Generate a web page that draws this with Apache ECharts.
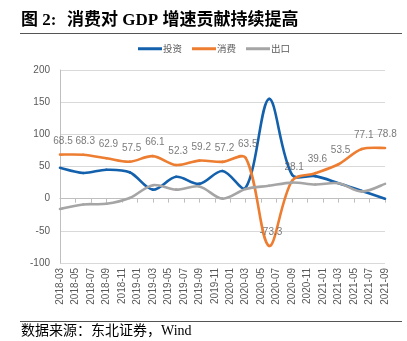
<!DOCTYPE html>
<html><head><meta charset="utf-8">
<script src="https://cdn.jsdelivr.net/npm/echarts@6/dist/echarts.min.js"></script>
<style>html,body{margin:0;padding:0;background:#fff}#c{width:407px;height:341px}</style>
</head><body><div id="c"></div>
<script>
const months = [];
for (let y = 2018; y <= 2021; y++) for (let m = 1; m <= 12; m++) {
  if ((y === 2018 && m < 3) || (y === 2021 && m > 9)) continue;
  months.push(y + '-' + String(m).padStart(2, '0'));
}
const quarters = ['2018-03','2018-06','2018-09','2018-12','2019-03','2019-06','2019-09','2019-12','2020-03','2020-06','2020-09','2020-12','2021-03','2021-06','2021-09'];
const investment = [48, 40, 45, 41, 14, 34, 23, 43, 17, 155, 37, 35, 24, 12, 0];
const consumption = [68.5, 68.3, 62.9, 57.5, 66.1, 52.3, 59.2, 57.2, 63.5, -73.3, 28.1, 39.6, 53.5, 77.1, 78.8];
const exportsNet = [-16, -9, -8, 1, 21, 14, 19, 0, 15, 20, 25, 22, 24, 11, 23];
const yTicks = [-100, -50, 0, 50, 100, 150, 200];
const seriesNames = ['投资', '消费', '出口'];
const colors = ['#1360ac', '#ed7d31', '#a5a5a5'];

const pair = arr => quarters.map((q, i) => [q, arr[i]]);

// Excel-style smoothed line (length-weighted Catmull-Rom Bezier), placed with the chart's own coordinate system
function smoothSeries(name, values, color) {
  return {
    name: name, type: 'custom', data: pair(values), encode: { x: 0, y: 1 },
    itemStyle: { color: color },
    renderItem: function (params, api) {
      const i = params.dataIndex, n = values.length;
      if (i >= n - 1) return null;
      const P = k => { k = Math.max(0, Math.min(n - 1, k)); return api.coord([quarters[k], values[k]]); };
      const dist = (a, b) => Math.hypot(a[0] - b[0], a[1] - b[1]) || 1e-6;
      const s = 1 / 3;
      const p0 = P(i - 1), p1 = P(i), p2 = P(i + 1), p3 = P(i + 2);
      const r1 = i === 0 ? 0.5 : dist(p1, p2) / (dist(p0, p1) + dist(p1, p2));
      const c1 = [p1[0] + (p2[0] - p0[0]) * s * r1, p1[1] + (p2[1] - p0[1]) * s * r1];
      const r2 = i + 1 === n - 1 ? 0.5 : dist(p1, p2) / (dist(p1, p2) + dist(p2, p3));
      const c2 = [p2[0] - (p3[0] - p1[0]) * s * r2, p2[1] - (p3[1] - p1[1]) * s * r2];
      return {
        type: 'bezierCurve',
        shape: { x1: p1[0], y1: p1[1], x2: p2[0], y2: p2[1], cpx1: c1[0], cpy1: c1[1], cpx2: c2[0], cpy2: c2[1] },
        style: { stroke: color, lineWidth: 2.6, fill: null, lineCap: 'round' }
      };
    }
  };
}

const chart = echarts.init(document.getElementById('c'));
const axisFont = { color: '#595959', fontSize: 10, fontFamily: 'Liberation Sans, Arial, sans-serif' };
chart.setOption({
  animation: false,
  color: colors,
  graphic: [
    { type: 'text', left: 21, top: 12, style: { text: '图 2:', font: 'bold 17px "Liberation Serif", "Noto Sans CJK SC", serif', fill: '#000' } },
    { type: 'text', left: 67, top: 12, style: { text: '消费对 GDP 增速贡献持续提高', font: 'bold 17px "Liberation Serif", "Noto Sans CJK SC", serif', fill: '#000' } },
    { type: 'line', shape: { x1: 20, y1: 33.5, x2: 402, y2: 33.5 }, style: { stroke: '#555', lineWidth: 1 } },
    { type: 'line', shape: { x1: 20, y1: 321.5, x2: 402, y2: 321.5 }, style: { stroke: '#555', lineWidth: 1 } },
    { type: 'text', left: 21, top: 324, style: { text: '数据来源：东北证券，Wind', font: '14px "Liberation Serif", "Noto Sans CJK SC", serif', fill: '#000' } }
  ],
  legend: {
    top: 44, left: 138, padding: 0, itemWidth: 24, itemHeight: 3, itemGap: 10,
    icon: 'rect',
    textStyle: { color: '#595959', fontSize: 9.5, fontFamily: 'Noto Sans CJK SC, sans-serif', padding: [0, 0, 0, -4] },
    data: seriesNames.map((n, i) => ({ name: n, itemStyle: { color: colors[i] } }))
  },
  grid: { left: 60, right: 22, top: 70, bottom: 78 },
  xAxis: [
    { type: 'category', data: months, boundaryGap: false, position: 'bottom',
      axisLine: { onZero: false, show: false }, axisTick: { show: false },
      axisLabel: Object.assign({ interval: 1, rotate: 90, margin: 5 }, axisFont) },
    { type: 'category', data: months, boundaryGap: false, position: 'bottom',
      axisLine: { onZero: true, lineStyle: { color: '#bfbfbf', width: 1 } },
      axisTick: { show: true, interval: 1, length: 4, lineStyle: { color: '#bfbfbf' } },
      axisLabel: { show: false } }
  ],
  yAxis: {
    type: 'value', min: -100, max: 200, interval: 50,
    axisLine: { show: true, lineStyle: { color: '#bfbfbf' } },
    axisTick: { show: false },
    splitLine: { lineStyle: { color: '#d9d9d9' } },
    axisLabel: Object.assign({ margin: 10 }, axisFont)
  },
  series: [
    smoothSeries(seriesNames[0], investment, colors[0]),
    smoothSeries(seriesNames[1], consumption, colors[1]),
    smoothSeries(seriesNames[2], exportsNet, colors[2]),
    { name: 'labels', type: 'scatter', symbolSize: 1, z: 5,
      data: pair(consumption).map((d, i) => i === 0 ? { value: d, label: { offset: [3, 0] } } : d),
      itemStyle: { color: 'rgba(0,0,0,0)' },
      label: { show: true, position: 'top', distance: 8, offset: [2, 0], color: '#595959', fontSize: 10,
        fontFamily: 'Liberation Sans, Arial, sans-serif', formatter: p => p.value[1].toFixed(1) } }
  ]
});
</script></body></html>
